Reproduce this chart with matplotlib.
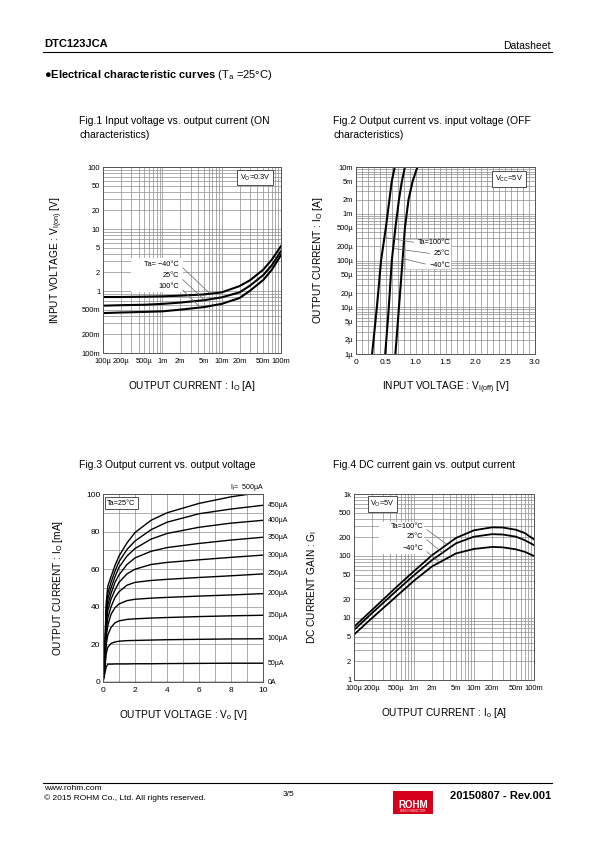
import numpy as np
import matplotlib.pyplot as plt
from matplotlib.patches import Rectangle
from matplotlib.ticker import FixedLocator, NullFormatter, LogLocator, MultipleLocator

plt.rcParams['font.family'] = ['Liberation Sans', 'DejaVu Sans']
plt.rcParams['mathtext.fontset'] = 'custom'
plt.rcParams['mathtext.rm'] = 'Liberation Sans'
plt.rcParams['mathtext.it'] = 'Liberation Sans:italic'
plt.rcParams['mathtext.bf'] = 'Liberation Sans:bold'

# ---- data ----
# Fig.1 input voltage (on) vs output current
fig1_io = [1e-4, 2e-4, 5e-4, 1e-3, 2e-3, 5e-3, 1e-2, 2e-2, 3e-2, 5e-2, 7e-2, 1e-1]
fig1_vin_m40 = [0.80, 0.80, 0.81, 0.82, 0.84, 0.88, 0.95, 1.2, 1.49, 2.2, 3.2, 5.3]
fig1_vin_25 = [0.58, 0.59, 0.60, 0.62, 0.65, 0.71, 0.79, 0.95, 1.22, 1.8, 2.6, 4.4]
fig1_vin_100 = [0.44, 0.45, 0.46, 0.47, 0.50, 0.55, 0.62, 0.77, 1.01, 1.5, 2.2, 3.8]
fig1_yticks = [0.1, 0.2, 0.5, 1, 2, 5, 10, 20, 50, 100]
fig1_ylabels = ['100m', '200m', '500m', '1', '2', '5', '10', '20', '50', '100']

# Fig.2 output current vs input voltage (off)
fig2_io = [1e-6, 1e-5, 1e-4, 5e-4, 2e-3, 5e-3, 1e-2]
fig2_vin_100 = [0.27, 0.35, 0.42, 0.50, 0.56, 0.60, 0.65]
fig2_vin_25 = [0.49, 0.55, 0.60, 0.66, 0.72, 0.77, 0.82]
fig2_vin_m40 = [0.66, 0.72, 0.78, 0.82, 0.88, 0.95, 1.03]
fig2_xticks = [0, 0.5, 1.0, 1.5, 2.0, 2.5, 3.0]
fig2_xlabels = ['0', '0.5', '1.0', '1.5', '2.0', '2.5', '3.0']
fig2_yticks = [1e-6, 2e-6, 5e-6, 1e-5, 2e-5, 5e-5, 1e-4, 2e-4, 5e-4, 1e-3, 2e-3, 5e-3, 1e-2]
fig2_ylabels = ['1µ', '2µ', '5µ', '10µ', '20µ', '50µ', '100µ', '200µ', '500µ', '1m', '2m', '5m', '10m']

# Fig.3 output current [mA] vs output voltage for input currents
fig3_vo = [0, 0.1, 0.2, 0.3, 0.5, 0.75, 1, 1.5, 2, 3, 4, 6, 8, 10]
fig3_labels = ['0A', '50µA', '100µA', '150µA', '200µA', '250µA', '300µA', '350µA', '400µA', '450µA', '500µA']
fig3_io = [
    [0, 0, 0, 0, 0, 0, 0, 0, 0, 0, 0, 0, 0, 0],
    [0, 4, 8, 9.5, 9.5, 9.6, 9.6, 9.6, 9.7, 9.7, 9.8, 9.9, 10, 10],
    [0, 6, 15, 18.5, 20.5, 21.3, 21.7, 22, 22.1, 22.3, 22.5, 22.7, 22.9, 23],
    [0, 7, 20, 25, 29, 31.5, 32.5, 33.3, 33.6, 34, 34.3, 34.8, 35.2, 35.5],
    [0, 8, 24, 30, 36, 39.5, 41.5, 43.3, 44, 44.6, 45, 45.7, 46.3, 47],
    [0, 9, 27, 34, 40, 45, 48, 51.5, 53, 54, 54.6, 55.6, 56.5, 57.5],
    [0, 10, 30, 38, 44, 49, 53, 57.5, 60, 62.5, 63.6, 65, 66.3, 67.5],
    [0, 11, 33, 41, 47, 53, 57, 62.5, 66, 69.5, 71.5, 73.7, 75.5, 77],
    [0, 12, 36, 44, 50, 56, 61, 67, 71, 76, 79, 82.3, 84.5, 86],
    [0, 13, 39, 47, 53, 59, 64, 70.5, 75, 81, 85, 89.5, 92, 94],
    [0, 14, 42, 51, 56, 62, 67, 74, 79.5, 86, 90, 95, 98.5, 101],
]

# Fig.4 DC current gain vs output current
fig4_io = [1e-4, 2e-4, 5e-4, 1e-3, 2e-3, 5e-3, 1e-2, 2e-2, 3e-2, 5e-2, 7e-2, 1e-1]
fig4_gi_100 = [7.2, 13.5, 31, 57, 103, 195, 260, 290, 288, 265, 235, 185]
fig4_gi_25 = [6.4, 12, 27, 49, 86, 160, 205, 225, 222, 205, 180, 150]
fig4_gi_m40 = [5.4, 10, 22, 40, 68, 110, 130, 140, 138, 128, 117, 100]
fig4_yticks = [1, 2, 5, 10, 20, 50, 100, 200, 500, 1000]
fig4_ylabels = ['1', '2', '5', '10', '20', '50', '100', '200', '500', '1k']

io_ticks = [1e-4, 2e-4, 5e-4, 1e-3, 2e-3, 5e-3, 1e-2, 2e-2, 5e-2, 1e-1]
io_labels = ['100µ', '200µ', '500µ', '1m', '2m', '5m', '10m', '20m', '50m', '100m']

# ---- page layout ----
W, H = 595, 842
fig = plt.figure(figsize=(W / 100, H / 100), dpi=100)

GRID = '#8c8c8c'
TICK_FS = 5.4
LAB_FS = 7.3


def px(x, y):
    return x / W, 1 - y / H


def axes_at(l, t, r, b):
    return fig.add_axes([l / W, 1 - b / H, (r - l) / W, (b - t) / H])


def style(ax):
    for s in ax.spines.values():
        s.set_color('#555555')
        s.set_linewidth(0.7)
    ax.tick_params(which='both', length=0, pad=2, labelsize=TICK_FS)
    ax.tick_params(axis='x', pad=3.5)
    ax.grid(which='both', color=GRID, lw=0.5)
    ax.set_axisbelow(True)


def log_axis(axis, ticks, labels):
    axis.set_major_locator(FixedLocator(ticks))
    axis.set_minor_locator(LogLocator(base=10, subs=range(2, 10)))
    axis.set_minor_formatter(NullFormatter())
    axis.set_ticklabels(labels)


def boxed(ax, x, y, s):
    ax.text(x, y, s, transform=ax.transAxes, ha='center', va='center', fontsize=5.3,
            bbox=dict(boxstyle='square,pad=0.35', fc='white', ec='#333333', lw=0.6), zorder=5)


# header
fig.text(*px(44, 44), 'DTC123JCA', fontsize=8, fontweight='bold', va='center')
fig.text(*px(551, 46), 'Datasheet', fontsize=7.5, ha='right', va='center')
fig.add_artist(plt.Line2D([43 / W, 552 / W], [1 - 52 / H, 1 - 52 / H], color='black', lw=0.8))
fig.text(*px(44, 75), '●' + r'$\mathbf{Electrical\ characteristic\ curves}$ (T$_\mathregular{a}$ =25°C)',
         fontsize=8, va='center')

# figure titles
fig.text(*px(79, 128), 'Fig.1 Input voltage vs. output current (ON\ncharacteristics)',
         fontsize=7.5, va='center', linespacing=1.55)
fig.text(*px(333, 128), 'Fig.2 Output current vs. input voltage (OFF\ncharacteristics)',
         fontsize=7.5, va='center', linespacing=1.55)
fig.text(*px(79, 465), 'Fig.3 Output current vs. output voltage', fontsize=7.5, va='center')
fig.text(*px(333, 465), 'Fig.4 DC current gain vs. output current', fontsize=7.5, va='center')

# ---- Fig.1 ----
ax1 = axes_at(103, 167, 281, 353)
ax1.set_xscale('log')
ax1.set_yscale('log')
ax1.set_xlim(1e-4, 1e-1)
ax1.set_ylim(0.1, 100)
style(ax1)
log_axis(ax1.xaxis, io_ticks, io_labels)
log_axis(ax1.yaxis, fig1_yticks, fig1_ylabels)
for v in (fig1_vin_m40, fig1_vin_25, fig1_vin_100):
    ax1.plot(fig1_io, v, color='black', lw=1.5)
ax1.add_patch(Rectangle((0.16, 0.33), 0.29, 0.18, transform=ax1.transAxes, fc='white', ec='none', zorder=3))
lead = dict(arrowstyle='-', color='#666666', lw=0.5, relpos=(1, 0.5), shrinkA=1, shrinkB=0)
ax1.annotate('Ta= \u221240°C', xy=(6.1e-3, 0.94), xytext=(1.9e-3, 2.72), ha='right', va='center',
             fontsize=5.3, arrowprops=lead, zorder=4)
ax1.annotate('25°C', xy=(5.0e-3, 0.73), xytext=(1.9e-3, 1.75), ha='right', va='center',
             fontsize=5.3, arrowprops=lead, zorder=4)
ax1.annotate('100°C', xy=(4.2e-3, 0.56), xytext=(1.9e-3, 1.2), ha='right', va='center',
             fontsize=5.3, arrowprops=lead, zorder=4)
boxed(ax1, 0.854, 0.944, r'V$_\mathregular{O}$=0.3V')
ax1.set_ylabel(r'INPUT VOLTAGE : V$_\mathregular{I(on)}$ [V]', fontsize=LAB_FS, labelpad=12)
ax1.set_xlabel(r'OUTPUT CURRENT : I$_\mathregular{O}$ [A]', fontsize=LAB_FS, labelpad=10)

# ---- Fig.2 ----
ax2 = axes_at(356, 167, 535, 354)
ax2.set_yscale('log')
ax2.set_xlim(0, 3.0)
ax2.set_ylim(1e-6, 1e-2)
style(ax2)
ax2.xaxis.set_major_locator(FixedLocator(fig2_xticks))
ax2.xaxis.set_minor_locator(MultipleLocator(0.1))
ax2.set_xticklabels(fig2_xlabels, fontsize=6)
log_axis(ax2.yaxis, fig2_yticks, fig2_ylabels)
for v in (fig2_vin_100, fig2_vin_25, fig2_vin_m40):
    ax2.plot(v, fig2_io, color='black', lw=1.5)
ax2.add_patch(Rectangle((0.275, 0.455), 0.255, 0.16, transform=ax2.transAxes, fc='white', ec='#aaaaaa',
                        lw=0.4, zorder=3))
lead2 = dict(arrowstyle='-', color='#666666', lw=0.5, relpos=(0, 0.5), shrinkA=1, shrinkB=0)
ax2.annotate('Ta=100°C', xy=(0.49, 3.1e-4), xytext=(1.58, 2.37e-4), ha='right', va='center',
             fontsize=5.3, arrowprops=lead2, zorder=4)
ax2.annotate('25°C', xy=(0.64, 1.8e-4), xytext=(1.58, 1.38e-4), ha='right', va='center',
             fontsize=5.3, arrowprops=lead2, zorder=4)
ax2.annotate('\u221240°C', xy=(0.78, 1.1e-4), xytext=(1.58, 8.0e-5), ha='right', va='center',
             fontsize=5.3, arrowprops=lead2, zorder=4)
boxed(ax2, 0.855, 0.935, r'V$_\mathregular{CC}$=5V')
ax2.set_ylabel(r'OUTPUT CURRENT : I$_\mathregular{O}$ [A]', fontsize=LAB_FS, labelpad=8)
ax2.set_xlabel(r'INPUT VOLTAGE : V$_\mathregular{I(off)}$ [V]', fontsize=LAB_FS, labelpad=10)

# ---- Fig.3 ----
ax3 = axes_at(103, 494, 263, 682)
ax3.set_xlim(0, 10)
ax3.set_ylim(0, 100)
style(ax3)
ax3.xaxis.set_major_locator(MultipleLocator(2))
ax3.xaxis.set_minor_locator(MultipleLocator(1))
ax3.yaxis.set_major_locator(MultipleLocator(20))
ax3.yaxis.set_minor_locator(MultipleLocator(10))
ax3.tick_params(labelsize=6)
for lab, cur in zip(fig3_labels, fig3_io):
    ax3.plot(fig3_vo, cur, color='black', lw=1.0)
    if lab != '500µA':
        ax3.text(1.03, cur[-1], lab, transform=ax3.get_yaxis_transform(), fontsize=5.0,
                 va='center', ha='left', clip_on=False)
ax3.text(0.794, 1.034, r'I$_\mathregular{I}$=  500µA', transform=ax3.transAxes, fontsize=5.0,
         va='center', ha='left')
boxed(ax3, 0.115, 0.952, 'Ta=25°C')
ax3.set_ylabel(r'OUTPUT CURRENT : I$_\mathregular{O}$ [mA]', fontsize=LAB_FS, labelpad=15)
ax3.set_xlabel(r'OUTPUT VOLTAGE : V$_\mathregular{o}$ [V]', fontsize=LAB_FS, labelpad=10)

# ---- Fig.4 ----
ax4 = axes_at(354, 494, 534, 680)
ax4.set_xscale('log')
ax4.set_yscale('log')
ax4.set_xlim(1e-4, 1e-1)
ax4.set_ylim(1, 1000)
style(ax4)
log_axis(ax4.xaxis, io_ticks, io_labels)
log_axis(ax4.yaxis, fig4_yticks, fig4_ylabels)
for g in (fig4_gi_100, fig4_gi_25, fig4_gi_m40):
    ax4.plot(fig4_io, g, color='black', lw=1.3)
ax4.add_patch(Rectangle((0.14, 0.68), 0.25, 0.17, transform=ax4.transAxes, fc='white', ec='none', zorder=3))
lead4 = dict(arrowstyle='-', color='#666666', lw=0.5, relpos=(1, 0.5), shrinkA=1, shrinkB=0)
ax4.annotate('Ta=100°C', xy=(3.5e-3, 155), xytext=(1.41e-3, 297), ha='right', va='center',
             fontsize=5.3, arrowprops=lead4, zorder=4)
ax4.annotate('25°C', xy=(3.0e-3, 112), xytext=(1.41e-3, 205), ha='right', va='center',
             fontsize=5.3, arrowprops=lead4, zorder=4)
ax4.annotate('\u221240°C', xy=(2.6e-3, 80), xytext=(1.41e-3, 133), ha='right', va='center',
             fontsize=5.3, arrowprops=lead4, zorder=4)
boxed(ax4, 0.158, 0.946, r'V$_\mathregular{O}$=5V')
ax4.set_ylabel(r'DC CURRENT GAIN : G$_\mathregular{I}$', fontsize=LAB_FS, labelpad=14)
ax4.set_xlabel(r'OUTPUT CURRENT : I$_\mathregular{o}$ [A]', fontsize=LAB_FS, labelpad=10)

# footer
fig.add_artist(plt.Line2D([43 / W, 552 / W], [1 - 783 / H, 1 - 783 / H], color='black', lw=0.8))
fig.text(*px(44, 789), 'www.rohm.com', fontsize=6, va='center')
fig.text(*px(44, 798), '© 2015 ROHM Co., Ltd. All rights reserved.', fontsize=6, va='center')
fig.text(*px(283, 795), '3/5', fontsize=6, va='center')
fig.add_artist(Rectangle(px(393, 814), 40 / W, 23.5 / H, transform=fig.transFigure, fc='#d7001c', ec='none'))
fig.text(*px(413, 805), 'ROHM', fontsize=7, fontweight='bold', color='white', ha='center', va='center')
fig.text(*px(413, 811.5), 'SEMICONDUCTOR', fontsize=2.2, color='white', ha='center', va='center')
fig.text(*px(551, 796), '20150807 - Rev.001', fontsize=8, fontweight='bold', ha='right', va='center')

fig.savefig('out.png', dpi=100)
